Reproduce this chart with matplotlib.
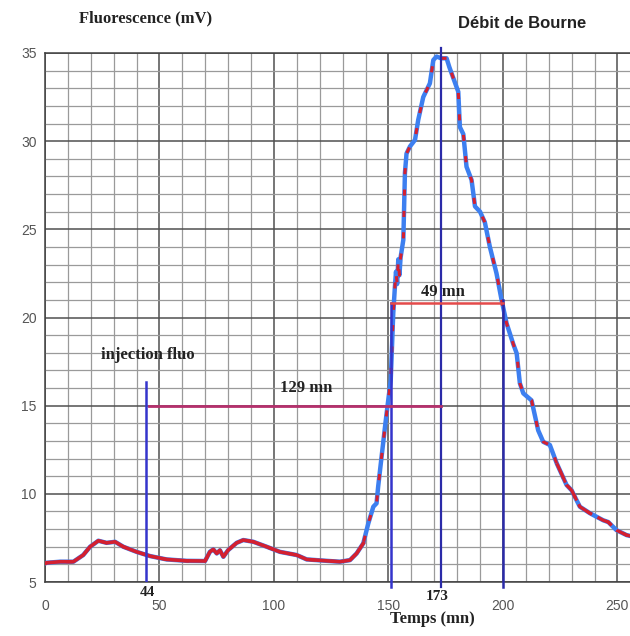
import matplotlib
matplotlib.use("Agg")
import matplotlib.pyplot as plt
from matplotlib.ticker import MultipleLocator

# ---- data ----
time_mn = [0, 0.7, 6.6, 12.4, 16.7, 19.7, 23.3, 26.9, 30.6, 34.2, 40, 45.9, 53.1,
           61.9, 69.9, 72, 73.5, 75, 76.4, 77.9, 80, 83.7, 86.6, 91, 96.8, 102.6,
           109.9, 114.3, 123, 128.8, 133.2, 136.1, 139, 141.2, 143.4, 144.8, 145.5,
           147, 148.5, 149.2, 149.9, 151, 152.1, 152.8, 153.3, 153.8, 154.3, 154.8,
           155.3, 156.5, 157.2, 157.9, 159.4, 161.6, 163, 165.2, 168.1, 169.6, 171,
           173, 175.4, 176.6, 180.5, 181.2, 182.7, 184.1, 186.3, 187.8, 190, 192.1,
           194.3, 197.2, 199.4, 201.6, 204.5, 206, 207.4, 208.9, 212.5, 215.4, 217.6,
           220.5, 223.5, 227.8, 230, 233.6, 238, 243.8, 246, 249.6, 254, 256]
fluo_mv = [6.05, 6.09, 6.15, 6.15, 6.53, 7.0, 7.34, 7.22, 7.28, 7.0, 6.71, 6.47, 6.28,
           6.2, 6.19, 6.71, 6.85, 6.62, 6.8, 6.43, 6.81, 7.22, 7.38, 7.28, 7.0, 6.71,
           6.53, 6.28, 6.2, 6.15, 6.24, 6.62, 7.19, 8.32, 9.27, 9.46, 10.4,
           12.1, 13.8, 14.56, 15.3, 16.45, 20.24, 21.7, 22.6, 21.9, 23.3, 22.4,
           23.4, 24.4, 28.2, 29.3, 29.7, 30.07, 31.2, 32.5, 33.28, 34.6, 34.8,
           34.7, 34.7, 34.2, 32.8, 30.8, 30.4, 28.55, 27.8, 26.3, 26.0, 25.4,
           24.0, 22.5, 21.0, 19.67, 18.5, 17.97, 16.27, 15.7, 15.3, 13.6, 12.95,
           12.77, 11.73, 10.5, 10.2, 9.27, 8.9, 8.5, 8.4, 7.94, 7.66, 7.6]

t_injection = 44
t_start = 151
t_peak = 173
t_end = 200
level_transit = 15.0
level_width = 20.8
label_transit = "129 mn"
label_width = "49 mn"

x_ticks = [0, 50, 100, 150, 200, 250]
y_ticks = [5, 10, 15, 20, 25, 30, 35]

serif = ["Liberation Serif", "DejaVu Serif"]
sans = ["Liberation Sans", "DejaVu Sans"]

fig = plt.figure(figsize=(6.3, 6.36), dpi=100)
ax = fig.add_axes([45 / 630, 54 / 636, 585 / 630, 529 / 636])
ax.set_xlim(0, 255.5)
ax.set_ylim(5, 35)

# grid
ax.xaxis.set_major_locator(MultipleLocator(50))
ax.xaxis.set_minor_locator(MultipleLocator(10))
ax.yaxis.set_major_locator(MultipleLocator(5))
ax.yaxis.set_minor_locator(MultipleLocator(1))
ax.grid(which="minor", color="#9a9a9a", lw=0.9)
ax.grid(which="major", color="#505050", lw=1.1)
ax.set_axisbelow(True)
ax.set_xticks(x_ticks)
ax.set_yticks(y_ticks)
ax.tick_params(which="both", length=0, labelsize=10, labelcolor="#555555", pad=12)
for lab in ax.get_xticklabels() + ax.get_yticklabels():
    lab.set_family(sans)
ax.tick_params(axis="y", pad=6)
for s in ["top", "left", "bottom"]:
    ax.spines[s].set_color("#404040")
    ax.spines[s].set_linewidth(1.1)
ax.spines["right"].set_visible(False)

# curve: blue line with red dashed overlay, red solid in the tails
ax.plot(time_mn, fluo_mv, color="#3d7ff0", lw=3.2, solid_capstyle="round", zorder=3)
low_t = [t for t in time_mn if t <= 140]
low_f = fluo_mv[:len(low_t)]
ax.plot(low_t, low_f, color="#d42030", lw=2.6, zorder=4)
ax.plot(time_mn, fluo_mv, color="#d42030", lw=2.2, dashes=(2, 5), zorder=4)
tail_t = [t for t in time_mn if t >= 222]
tail_f = fluo_mv[len(time_mn) - len(tail_t):]
ax.plot(tail_t, tail_f, color="#d42030", lw=2.4, dashes=(5, 2), zorder=4)

# vertical markers
vcol = "#3434cc"
ax.plot([t_injection, t_injection], [5, 16.35], color=vcol, lw=1.8, zorder=5)
ax.plot([t_start, t_start], [4.7, level_width], color=vcol, lw=1.8, zorder=5, clip_on=False)
ax.plot([t_peak, t_peak], [4.7, 35.3], color="#2a2aa8", lw=1.6, zorder=5, clip_on=False)
ax.plot([t_end, t_end], [4.7, level_width + 0.2], color="#2a2aa8", lw=1.8, zorder=5, clip_on=False)

# horizontal durations
ax.plot([t_injection + 1.5, t_peak], [level_transit, level_transit], color="#b4306c", lw=2.0, zorder=5)
ax.plot([t_start, t_end], [level_width, level_width], color="#e44a4a", lw=1.8, zorder=5)

ax.text(114, 16.0, label_transit, family=serif, fontweight="bold", fontsize=12,
        ha="center", va="center", color="#222222")
ax.text(174, 21.45, label_width, family=serif, fontweight="bold", fontsize=12,
        ha="center", va="center", color="#222222")
ax.text(45, 17.87, "injection fluo", family=serif, fontweight="bold", fontsize=12,
        ha="center", va="center", color="#222222")

# special tick labels
fig.text(147 / 630, 1 - 593 / 636, str(t_injection), family=serif, fontweight="bold",
         fontsize=11, ha="center", va="center", color="#222222")
fig.text(437 / 630, 1 - 597 / 636, str(t_peak), family=serif, fontweight="bold",
         fontsize=11, ha="center", va="center", color="#222222")

# titles
fig.text(146 / 630, 1 - 18 / 636, "Fluorescence (mV)", family=serif, fontweight="bold",
         fontsize=12, ha="center", va="center", color="#222222")
fig.text(522 / 630, 1 - 23 / 636, "Débit de Bourne", family=sans, fontweight="bold",
         fontsize=12, ha="center", va="center", color="#222222")
fig.text(432 / 630, 1 - 619 / 636, "Temps (mn)", family=serif, fontweight="bold",
         fontsize=12, ha="center", va="center", color="#222222")

fig.savefig("out.png", dpi=100, facecolor="white")
